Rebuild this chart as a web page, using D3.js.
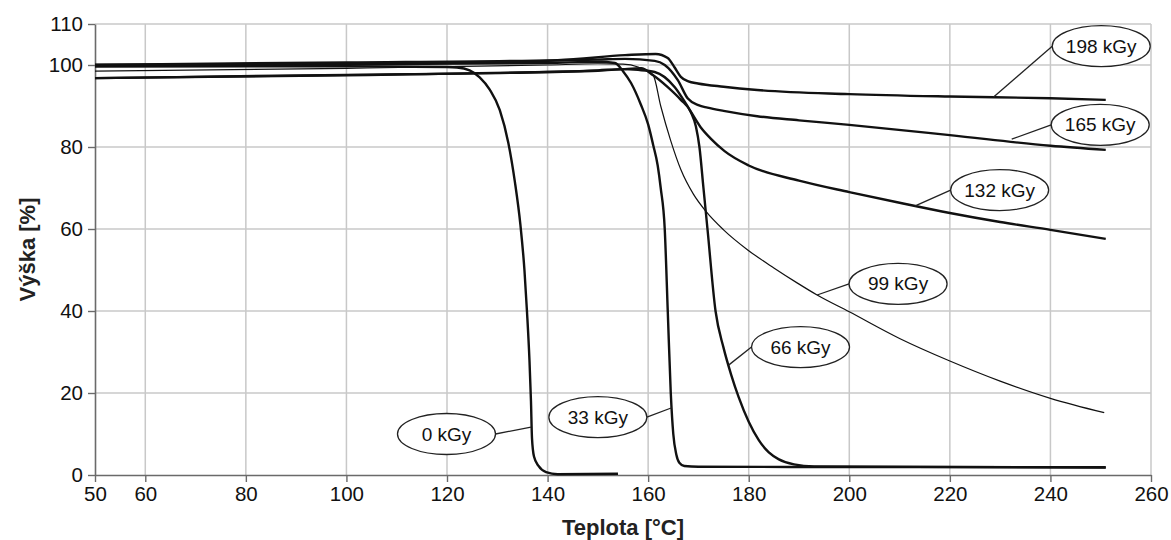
<!DOCTYPE html>
<html>
<head>
<meta charset="utf-8">
<script src="https://cdn.jsdelivr.net/npm/d3@7"></script>
<style>
  body { margin: 0; background: #fff; }
  text { font-family: "Liberation Sans", Arial, sans-serif; }
</style>
</head>
<body>
<div id="canvas"></div>
<script>
// tick values
const xTicks = [50, 60, 80, 100, 120, 140, 160, 180, 200, 220, 240, 260];
const yTicks = [0, 20, 40, 60, 80, 100, 110];

// series names
const doses = ["0 kGy", "33 kGy", "66 kGy", "99 kGy", "132 kGy", "165 kGy", "198 kGy"];

// [teplota, vyska]
const s0 = [[50, 99.6], [100, 99.7], [120, 99.5], [122, 99.4], [124.5, 98.7], [126.5, 97], [128.5, 94],
  [130.5, 89], [132.2, 81], [133.5, 71.5], [134.6, 61], [135.4, 50], [135.9, 40], [136.4, 28],
  [136.7, 18], [136.9, 9], [137.3, 4.5], [138.2, 2.2], [139.7, 0.7], [142, 0.2], [154, 0.3]];
const s33 = [[50, 99.9], [100, 100.2], [140, 100.5], [150, 100.8], [153.4, 100.5], [155, 98.5],
  [156.6, 95.6], [158.5, 90.5], [160, 85.5], [161, 80.5], [161.9, 75.5], [162.5, 70], [163.3, 60],
  [163.9, 40], [164.5, 20], [165, 10], [165.6, 5], [166.2, 3], [167.2, 2.2], [170, 2], [251, 1.9]];
const s66 = [[50, 96.8], [100, 97.5], [140, 98.3], [150, 98.6], [155, 99], [158.6, 99.2], [161, 97.5],
  [163.9, 94.6], [166.5, 91.5], [168.5, 88.5], [169.5, 85], [170.2, 80], [171, 70], [171.8, 60],
  [173.4, 40], [175, 31], [176.5, 24.5], [178, 19], [180, 13], [182, 8.5], [184, 5.5], [186, 3.8],
  [189, 2.6], [193, 2.1], [251, 1.8]];
const s99 = [[50, 98.5], [100, 99.2], [140, 100], [150, 100.3], [155, 100.2], [158, 99.5], [161, 97.5],
  [162.5, 90], [164.5, 81.5], [166.5, 74.5], [169, 68.5], [171.5, 64.3], [175, 59.8], [179.8, 54.9],
  [185, 50.5], [189.7, 46.8], [193.6, 43.9], [200, 39.8], [210, 33.3], [220, 27.8], [230, 22.9],
  [240, 18.7], [250.7, 15.2]];
const s132 = [[50, 96.8], [100, 97.6], [140, 98.3], [150, 98.7], [155, 99], [158, 98.8], [161.3, 98.3],
  [165.3, 94.6], [167.9, 89.8], [170.4, 84.9], [172.5, 82], [175.2, 79], [180, 75.5], [190, 71.8],
  [200, 69], [210, 66.4], [220, 63.9], [230, 61.7], [240, 59.8], [251, 57.6]];
const s165 = [[50, 100], [100, 100.4], [140, 101], [150, 101.3], [155.4, 101.5], [161.3, 101],
  [163.3, 100], [165.9, 96.3], [167.9, 91.8], [170, 90.2], [171.8, 89.6], [175, 88.8], [181.7, 87.5],
  [190, 86.5], [200, 85.4], [220, 82.9], [240, 80.3], [251, 79.3]];
const s198 = [[50, 100.1], [100, 100.6], [142, 101.2], [155.4, 102.4], [161.5, 102.7], [163.9, 101.7],
  [165.2, 99.5], [166.5, 97.1], [168, 96], [169.9, 95.5], [175, 94.7], [181.7, 93.9], [200, 92.9],
  [220, 92.3], [240, 91.9], [251, 91.5]];

const series = [s0, s33, s66, s99, s132, s165, s198];

// label bubble centre and the point it points to, in data units
const labelAt = [[119.9, 10], [150, 14.1], [190.3, 31.2], [209.7, 46.6], [229.9, 69.5], [249.9, 85.4], [250.1, 104.6]];
const labelTo = [[136.7, 11.7], [164.7, 16.4], [176, 26.8], [193.6, 43.9], [213, 65.6], [232.3, 81.9], [228.7, 92.2]];

const width = 1171;
const height = 540;
const margin = { top: 24, left: 95, bottom: 65, right: 20 };
const iwidth = width - margin.left - margin.right;
const iheight = height - margin.top - margin.bottom;

const svg = d3.select("#canvas").append("svg")
  .attr("width", width)
  .attr("height", height);

const g = svg.append("g")
  .attr("transform", `translate(${margin.left},${margin.top})`);

const x = d3.scaleLinear().domain([50, 260]).range([0, iwidth]);
const y = d3.scaleLinear().domain([0, 110]).range([iheight, 0]);

// grid
g.append("g").selectAll("line").data(xTicks.filter(d => d > 50)).enter().append("line")
  .attr("x1", d => x(d)).attr("x2", d => x(d))
  .attr("y1", 0).attr("y2", iheight)
  .attr("stroke", "#c8c8c8").attr("stroke-width", 1.5);
g.append("g").selectAll("line").data(yTicks.filter(d => d > 0)).enter().append("line")
  .attr("x1", 0).attr("x2", iwidth)
  .attr("y1", d => y(d)).attr("y2", d => y(d))
  .attr("stroke", "#c8c8c8").attr("stroke-width", 1.5);

// axes
const xAxis = g.append("g")
  .attr("transform", `translate(0,${iheight})`)
  .call(d3.axisBottom(x).tickValues(xTicks).tickSize(7).tickPadding(4).tickSizeOuter(0));
const yAxis = g.append("g")
  .call(d3.axisLeft(y).tickValues(yTicks).tickSize(7).tickPadding(5).tickSizeOuter(0));

[xAxis, yAxis].forEach(a => {
  a.select(".domain").attr("stroke", "#6a6a6a").attr("stroke-width", 1.6);
  a.selectAll(".tick line").attr("stroke", "#6a6a6a").attr("stroke-width", 1.4);
  a.selectAll(".tick text")
    .attr("fill", "#111")
    .style("font-size", "20.5px")
    .style("font-family", "'Liberation Sans', Arial, sans-serif");
});

// curves
const line = d3.line()
  .x(d => x(d[0]))
  .y(d => y(d[1]))
  .curve(d3.curveMonotoneX);

g.append("g").selectAll("path").data(series).enter().append("path")
  .attr("d", d => line(d))
  .attr("fill", "none")
  .attr("stroke", "#111")
  .attr("stroke-width", (d, i) => i === 3 ? 1.2 : 2.4)
  .attr("stroke-linejoin", "round");

// labels
const labels = g.append("g");
doses.forEach((name, i) => {
  const cx = x(labelAt[i][0]);
  const cy = y(labelAt[i][1]);
  const tx = x(labelTo[i][0]);
  const ty = y(labelTo[i][1]);
  const side = tx < cx ? -1 : 1;
  labels.append("line")
    .attr("x1", cx + side * 49).attr("y1", cy)
    .attr("x2", tx).attr("y2", ty)
    .attr("stroke", "#222").attr("stroke-width", 1.3);
  labels.append("ellipse")
    .attr("cx", cx).attr("cy", cy)
    .attr("rx", 49).attr("ry", 20.5)
    .attr("fill", "#fff")
    .attr("stroke", "#222").attr("stroke-width", 1.3);
  labels.append("text")
    .attr("x", cx).attr("y", cy + 6.5)
    .attr("text-anchor", "middle")
    .style("font-size", "19px")
    .attr("fill", "#111")
    .text(name);
});

// axis titles
svg.append("text")
  .attr("x", margin.left + x(155)).attr("y", 535)
  .attr("text-anchor", "middle")
  .style("font-size", "22px").style("font-weight", "bold")
  .attr("fill", "#222")
  .text("Teplota [°C]");
svg.append("text")
  .attr("transform", `translate(35,${margin.top + y(55)}) rotate(-90)`)
  .attr("text-anchor", "middle")
  .style("font-size", "22px").style("font-weight", "bold")
  .attr("fill", "#222")
  .text("Výška [%]");
</script>
</body>
</html>
